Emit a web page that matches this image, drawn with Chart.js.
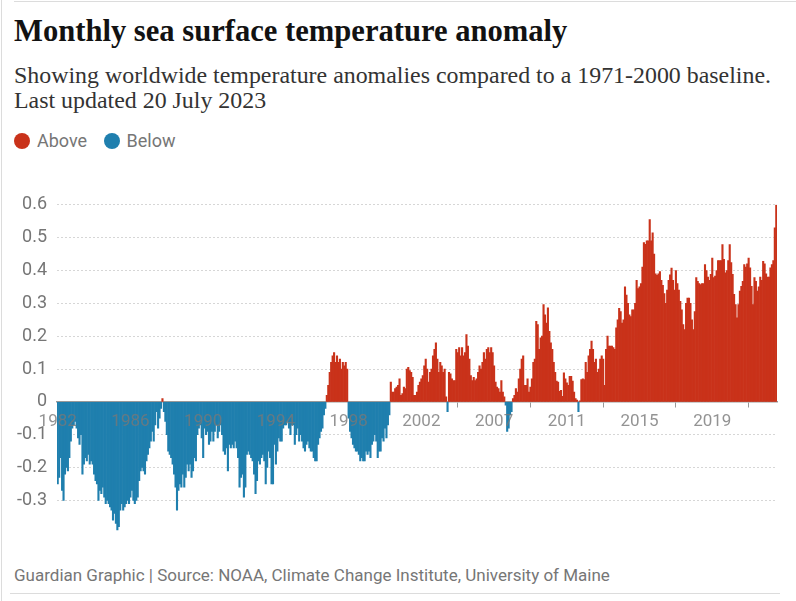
<!DOCTYPE html>
<html>
<head>
<meta charset="utf-8">
<title>Monthly sea surface temperature anomaly</title>
<script src="https://cdn.jsdelivr.net/npm/chart.js"></script>
<style>
  body { margin: 0; background: #fff; }
  #page { position: relative; width: 796px; height: 601px; overflow: hidden; background: #fff; }
  .rule { position: absolute; background: #dcdcdc; }
  h1 { position: absolute; left: 14px; top: 13px; margin: 0; font: bold 30.6px/36px "Liberation Serif", serif; color: #121212; white-space: nowrap; }
  .sub { position: absolute; left: 14px; top: 63px; margin: 0; font: 23.9px/25px "Liberation Serif", serif; color: #333; white-space: nowrap; }
  .legend { position: absolute; left: 14px; top: 130px; font: 18px/20px Roboto, sans-serif; color: #767676; }
  .legend span { display: inline-block; vertical-align: middle; }
  .dot { width: 16px; height: 16px; border-radius: 50%; margin-right: 7px; }
  .source { position: absolute; left: 14px; top: 565px; font: 17px/20px Roboto, sans-serif; color: #767676; white-space: nowrap; }
  #wrap { position: absolute; left: 0; top: 184px; width: 796px; height: 370px; }
</style>
</head>
<body>
<div id="page">
  <div class="rule" style="left:14px; top:1px; width:782px; height:1px;"></div>
  <div class="rule" style="left:1px; top:0; width:1px; height:601px;"></div>
  <div class="rule" style="left:10px; top:593px; width:770px; height:1px;"></div>
  <h1>Monthly sea surface temperature anomaly</h1>
  <p class="sub">Showing worldwide temperature anomalies compared to a 1971-2000 baseline.<br>Last updated 20 July 2023</p>
  <div class="legend">
    <span class="dot" style="background:#c9321a"></span><span style="margin-right:12px">Above</span>
    <span class="dot" style="background:#1f7fae"></span><span>Below</span>
  </div>
  <div id="wrap"><canvas id="sstChart"></canvas></div>
  <div class="source">Guardian Graphic | Source: NOAA, Climate Change Institute, University of Maine</div>
</div>

<script>
  // monthly anomaly (°C), one row per year, Jan..Dec, from January 1982
  const firstYear = 1982;
  const anomaly1980s = [
    -0.25, -0.23, -0.17, -0.27, -0.30, -0.22, -0.20, -0.21, -0.17, -0.12, -0.08, -0.07,
    -0.06, -0.08, -0.11, -0.13, -0.10, -0.22, -0.19, -0.17, -0.18, -0.16, -0.19, -0.18,
    -0.19, -0.22, -0.24, -0.25, -0.30, -0.27, -0.28, -0.26, -0.29, -0.31, -0.30, -0.31,
    -0.32, -0.33, -0.36, -0.34, -0.37, -0.39, -0.38, -0.33, -0.31, -0.33, -0.32, -0.31,
    -0.30, -0.31, -0.29, -0.27, -0.30, -0.31, -0.30, -0.29, -0.24, -0.21, -0.20, -0.21,
    -0.22, -0.18, -0.16, -0.14, -0.12, -0.09, -0.12, -0.07, -0.03, -0.08, -0.05, -0.02,
    0.01, -0.03, -0.06, -0.10, -0.15, -0.16, -0.17, -0.19, -0.22, -0.26, -0.33, -0.27,
    -0.25, -0.26, -0.22, -0.26, -0.23, -0.19, -0.21, -0.19, -0.23, -0.21, -0.17, -0.18
  ];
  const anomaly1990s = [
    -0.10, -0.08, -0.07, -0.11, -0.17, -0.08, -0.10, -0.09, -0.13, -0.12, -0.09, -0.12,
    -0.09, -0.07, -0.11, -0.09, -0.07, -0.10, -0.15, -0.16, -0.14, -0.21, -0.13, -0.14,
    -0.13, -0.14, -0.12, -0.14, -0.17, -0.26, -0.23, -0.22, -0.29, -0.26, -0.16, -0.15,
    -0.16, -0.17, -0.18, -0.22, -0.28, -0.24, -0.18, -0.19, -0.17, -0.16, -0.18, -0.25,
    -0.20, -0.15, -0.17, -0.25, -0.25, -0.13, -0.19, -0.15, -0.11, -0.12, -0.12, -0.08,
    -0.07, -0.07, -0.06, -0.08, -0.10, -0.07, -0.07, -0.13, -0.10, -0.08, -0.12, -0.10,
    -0.12, -0.14, -0.15, -0.13, -0.12, -0.14, -0.15, -0.15, -0.17, -0.18, -0.18, -0.13,
    -0.11, -0.09, -0.08, -0.04, -0.02, 0.02, 0.05, 0.09, 0.12, 0.14, 0.15, 0.12,
    0.14, 0.12, 0.13, 0.10, 0.12, 0.11, 0.12, 0.10, -0.05, -0.09, -0.11, -0.13,
    -0.14, -0.15, -0.15, -0.16, -0.18, -0.17, -0.18, -0.18, -0.15, -0.16, -0.15, -0.17
  ];
  const anomaly2000s = [
    -0.13, -0.12, -0.10, -0.12, -0.17, -0.15, -0.15, -0.11, -0.12, -0.08, -0.11, -0.07,
    -0.04, 0.06, 0.03, 0.03, 0.04, 0.045, 0.05, 0.07, 0.02, 0.025, 0.045, 0.04,
    0.10, 0.105, 0.095, 0.09, 0.075, 0.02, 0.02, 0.03, 0.05, 0.06, 0.07, 0.08,
    0.11, 0.13, 0.10, 0.06, 0.09, 0.10, 0.14, 0.16, 0.18, 0.13, 0.09, 0.12,
    0.11, 0.09, 0.10, 0.015, -0.03, 0.09, 0.085, 0.07, 0.065, 0.065, 0.16, 0.15,
    0.165, 0.14, 0.165, 0.14, 0.15, 0.205, 0.17, 0.13, 0.08, 0.065, 0.075, 0.065,
    0.07, 0.09, 0.11, 0.10, 0.12, 0.15, 0.13, 0.16, 0.165, 0.15, 0.165, 0.15,
    0.11, 0.06, 0.045, 0.04, 0.03, 0.065, 0.03, 0.015, -0.01, -0.09, -0.08, -0.04,
    -0.03, 0.01, 0.02, 0.04, 0.03, 0.07, 0.10, 0.13, 0.14, 0.05, 0.05, 0.07,
    0.03, 0.045, 0.07, 0.12, 0.13, 0.245, 0.235, 0.16, 0.195, 0.20, 0.296, 0.265
  ];
  const anomaly2010s = [
    0.24, 0.286, 0.215, 0.18, 0.16, 0.12, 0.09, 0.063, 0.06, 0.032, 0.035, 0.017,
    0.088, 0.07, 0.058, 0.05, 0.078, 0.078, 0.063, 0.03, 0.01, 0.005, -0.03, 0.003,
    0.068, 0.07, 0.068, 0.12, 0.09, 0.14, 0.16, 0.185, 0.16, 0.12, 0.13, 0.09,
    0.10, 0.13, 0.14, 0.13, 0.05, 0.16, 0.20, 0.17, 0.17, 0.17, 0.165, 0.16,
    0.225, 0.25, 0.285, 0.275, 0.24, 0.25, 0.35, 0.325, 0.30, 0.265, 0.26, 0.28,
    0.28, 0.30, 0.37, 0.345, 0.35, 0.36, 0.41, 0.485, 0.48, 0.49, 0.49, 0.555,
    0.49, 0.515, 0.45, 0.39, 0.385, 0.39, 0.397, 0.37, 0.355, 0.33, 0.30, 0.34,
    0.37, 0.387, 0.407, 0.37, 0.34, 0.40, 0.36, 0.34, 0.306, 0.28, 0.235, 0.22,
    0.30, 0.316, 0.316, 0.30, 0.25, 0.22, 0.275, 0.378, 0.367, 0.36, 0.357, 0.36,
    0.36, 0.418, 0.40, 0.38, 0.37, 0.388, 0.438, 0.378, 0.383, 0.40, 0.43, 0.43
  ];
  const anomaly2020s = [
    0.43, 0.479, 0.434, 0.393, 0.40, 0.43, 0.479, 0.424, 0.388, 0.327, 0.296, 0.256,
    0.296, 0.337, 0.352, 0.367, 0.418, 0.41, 0.42, 0.438, 0.408, 0.352, 0.296, 0.378,
    0.367, 0.337, 0.35, 0.38, 0.37, 0.428, 0.42, 0.39, 0.38, 0.38, 0.408, 0.418,
    0.43, 0.53, 0.60
  ];
  const yTicks = [-0.3, -0.2, -0.1, 0, 0.1, 0.2, 0.3, 0.4, 0.5, 0.6];
  const tickEvery = 50; // a year label every 50 months

  const RED = '#c9321a';
  const BLUE = '#1f7fae';

  const values = [].concat(anomaly1980s, anomaly1990s, anomaly2000s, anomaly2010s, anomaly2020s);
  const months = values.map((v, i) => {
    const y = firstYear + Math.floor(i / 12);
    const m = (i % 12) + 1;
    return y + '-' + (m < 10 ? '0' + m : m);
  });

  const ctx = document.getElementById('sstChart').getContext('2d');
  const sstChart = new Chart(ctx, {
    type: 'bar',
    data: {
      labels: months,
      datasets: [{
        label: 'Anomaly',
        data: values,
        backgroundColor: c => (c.raw < 0 ? BLUE : RED),
        borderWidth: 0,
        barPercentage: 1,
        categoryPercentage: 1
      }]
    },
    options: {
      responsive: true,
      maintainAspectRatio: false,
      animation: false,
      layout: { padding: { left: 0, right: 19, top: 8, bottom: 0 } },
      plugins: { legend: { display: false }, tooltip: { enabled: false } },
      scales: {
        x: {
          position: { y: 0 },
          afterBuildTicks: axis => {
            axis.ticks = axis.ticks.filter(t => t.value % tickEvery === 0);
          },
          ticks: {
            z: 1,
            autoSkip: false,
            maxRotation: 0,
            padding: 5,
            color: 'rgba(120,120,120,0.8)',
            font: { family: 'Roboto, sans-serif', size: 17 },
            callback: v => months[v].slice(0, 4)
          },
          grid: { drawOnChartArea: false, drawTicks: true, tickLength: 5, color: '#999', lineWidth: 1 },
          border: { display: true, color: '#999', width: 1.5 }
        },
        y: {
          min: -0.4,
          max: 0.6,
          afterFit: s => { s.width = 57; },
          afterBuildTicks: axis => {
            axis.ticks = yTicks.map(v => ({ value: v }));
          },
          ticks: {
            padding: 10,
            color: '#767676',
            font: { family: 'Roboto, sans-serif', size: 18 },
            callback: v => (v === 0 ? '0' : v.toFixed(1))
          },
          grid: { drawTicks: false, color: '#d6d6d6', lineWidth: 1 },
          border: { display: false, dash: [2, 2] }
        }
      }
    }
  });
</script>
</body>
</html>
